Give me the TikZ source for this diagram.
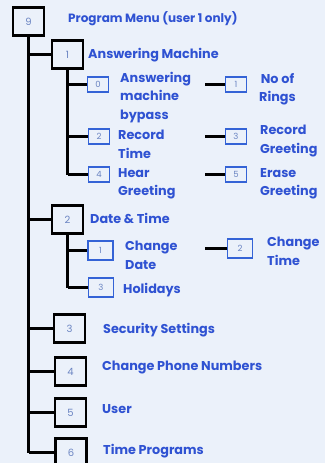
\documentclass[tikz,border=0pt]{standalone}
\usepackage{fontspec}
\setmainfont{Poppins}
\definecolor{bg}{HTML}{EBF1FA}
\definecolor{lblc}{HTML}{2F52D2}
\definecolor{numc}{HTML}{6A84C2}
\definecolor{subc}{HTML}{3463D6}
\tikzset{
  bigbox/.style={draw=black, line width=2.5pt, fill=bg, minimum width=31pt, minimum height=28pt, inner sep=0pt, text=numc, font=\fontsize{10}{12}\selectfont},
  subbox/.style={draw=subc, line width=1.7pt, fill=bg, minimum width=21pt, minimum height=15pt, inner sep=0pt, text=numc, font=\fontsize{8.5}{10}\selectfont},
  wsubbox/.style={subbox, minimum width=25pt, minimum height=19pt},
  lbl/.style={anchor=base west, inner sep=0pt, text=lblc, font=\bfseries\fontsize{12.8}{14}\selectfont},
  mlbl/.style={anchor=north west, inner sep=0pt, align=left, text=lblc, font=\bfseries\fontsize{12.8}{18.5}\selectfont},
  conn/.style={line width=3pt, black}
}
\begin{document}
\begin{tikzpicture}[x=1pt,y=-1pt]
\fill[bg] (0,0) rectangle (325,463);
\useasboundingbox (0,0) rectangle (325,463);

% top
\node[bigbox] (n9) at (28.5,21.5) {9};
\node[lbl, font=\bfseries\fontsize{12}{14}\selectfont] (t9) at (68,23) {Program Menu (user 1 only)};

% level 1 boxes
\node[bigbox] (a1) at (67.5,54.5) {1};
\node[lbl] (ta1) at (88,58) {Answering Machine};
\node[bigbox] (a2) at (67.5,219.5) {2};
\node[lbl] (ta2) at (90,223) {Date \& Time};
\node[bigbox] (a3) at (69.5,328.5) {3};
\node[lbl] (ta3) at (103,333) {Security Settings};
\node[bigbox] (a4) at (70.5,371.5) {4};
\node[lbl] (ta4) at (102,370) {Change Phone Numbers};
\node[bigbox] (a5) at (70.5,412.5) {5};
\node[lbl] (ta5) at (102,413) {User};
\node[bigbox] (a6) at (71,452.5) {6};
\node[lbl] (ta6) at (103,454) {Time Programs};

% main trunk
\draw[conn] (n9.south) -- (n9.south |- a6.west);
\foreach \b in {a1,a2,a3,a4,a5,a6}
  \draw[conn] (n9.south |- \b.west) -- (\b.west);

% answering machine submenu
\node[subbox] (b0) at (98,84.5) {0};
\node[mlbl] (tb0) at (120,72) {Answering\\machine\\bypass};
\node[subbox] (b2) at (99,136.5) {2};
\node[mlbl] (tb2) at (118,130) {Record\\Time};
\node[subbox] (b4) at (99,174.5) {4};
\node[mlbl] (tb4) at (118,168) {Hear\\Greeting};
\draw[conn] (a1.south) -- (a1.south |- b4.west);
\foreach \b in {b0,b2,b4}
  \draw[conn] (a1.south |- \b.west) -- (\b.west);

\node[subbox] (c1) at (236,84.5) {1};
\node[mlbl, align=center] (tc1) at (259,73) {No of\\Rings};
\node[subbox] (c3) at (236,136.5) {3};
\node[mlbl] (tc3) at (260,125) {Record\\Greeting};
\node[subbox] (c5) at (236,174.5) {5};
\node[mlbl] (tc5) at (260,168) {Erase\\Greeting};
\coordinate (s1) at (205,84.5);
\coordinate (s3) at (205,136.5);
\coordinate (s5) at (205,174.5);
\draw[conn] (s1) -- (c1.west);
\draw[conn] (s3) -- (c3.west);
\draw[conn] (s5) -- (c5.west);

% date & time submenu
\node[wsubbox] (d1) at (100.5,250.5) {1};
\node[mlbl] (td1) at (125,241) {Change\\Date};
\node[wsubbox] (d3) at (101,287.5) {3};
\node[lbl] (td3) at (123,293) {Holidays};
\draw[conn] (a2.south) -- (a2.south |- d3.west);
\foreach \b in {d1,d3}
  \draw[conn] (a2.south |- \b.west) -- (\b.west);

\node[wsubbox] (e2) at (240,248.5) {2};
\node[mlbl] (te2) at (267,237) {Change\\Time};
\coordinate (s2) at (205,248.5);
\draw[conn] (s2) -- (e2.west);
\end{tikzpicture}
\end{document}
